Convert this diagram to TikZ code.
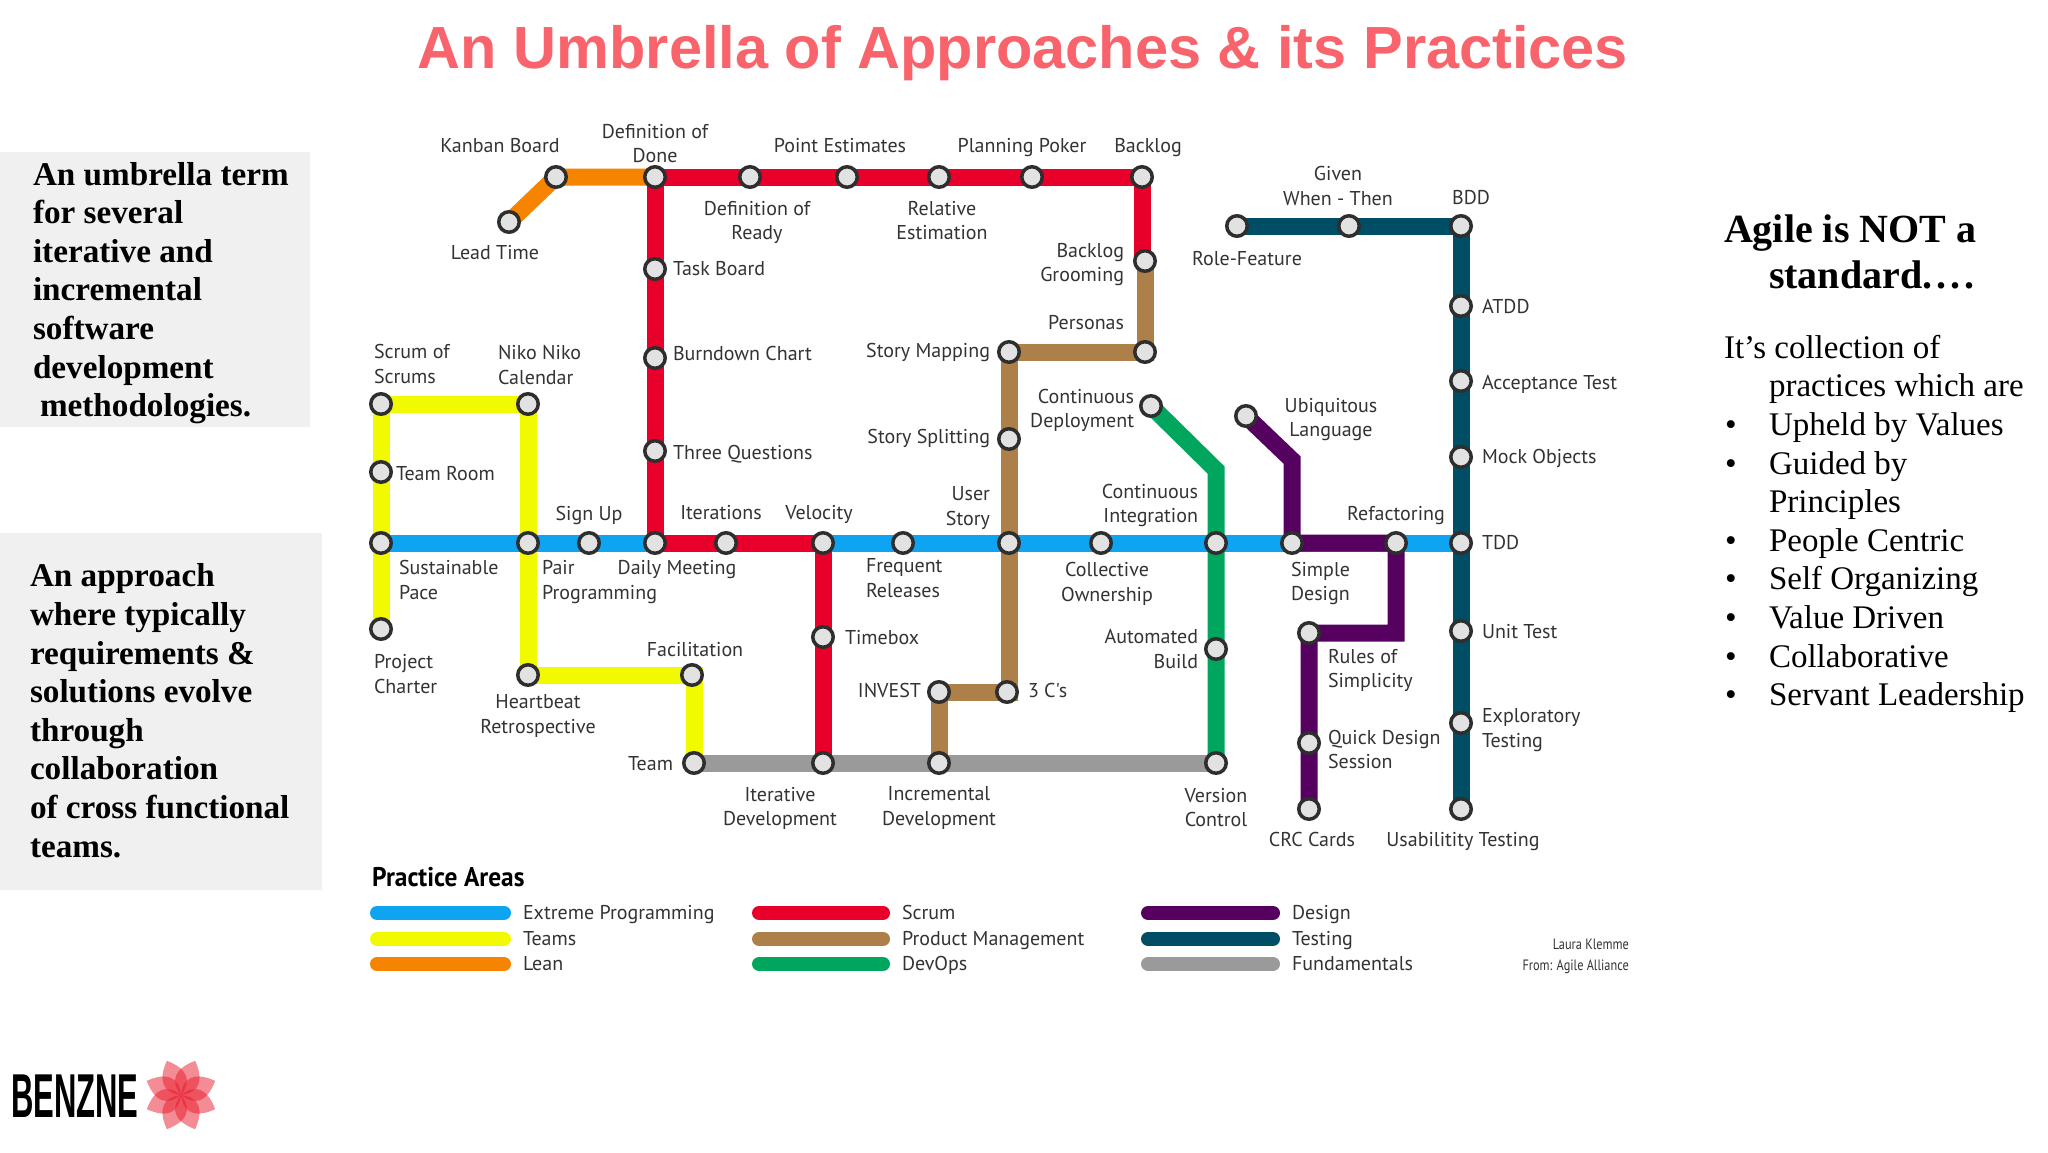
\documentclass[tikz,border=0pt]{standalone}
\usepackage{fontspec}
\setmainfont{Liberation Serif}
\newfontfamily\lblfont{PT Sans}
\newfontfamily\titlefont{Liberation Sans}
\usetikzlibrary{backgrounds}
\definecolor{cblue}{HTML}{0FA4F2}
\definecolor{cyellow}{HTML}{F2FA00}
\definecolor{corange}{HTML}{F78400}
\definecolor{cred}{HTML}{E8002A}
\definecolor{cbrown}{HTML}{AD7F49}
\definecolor{cgreen}{HTML}{00A55E}
\definecolor{cpurple}{HTML}{560060}
\definecolor{cteal}{HTML}{004E66}
\definecolor{cgray}{HTML}{9A9A9A}
\definecolor{ctitle}{HTML}{F9636B}
\definecolor{cbox}{HTML}{F0F0F0}
\definecolor{cring}{HTML}{2E2E2E}
\definecolor{cstop}{HTML}{E2E2E2}
\definecolor{ctext}{HTML}{333333}
\definecolor{cpetal}{HTML}{E81A2A}
\tikzset{
  stn/.style={circle,draw=cring,fill=cstop,line width=3.5pt,minimum size=20.5pt,inner sep=0pt,outer sep=0pt},
  lbl/.style={font=\lblfont\fontsize{20}{24.7}\selectfont,text=ctext,inner sep=0pt,outer sep=0pt,align=center,yshift=-1.5pt,
    execute at begin node=\strut,execute at end node=\strut},
  lbll/.style={lbl,align=left,anchor=west},
  lblr/.style={lbl,align=right,anchor=east},
  rail/.style={line width=17pt,line join=miter,line cap=butt},
  key/.style={line width=14pt,line cap=round},
  sidetxt/.style={inner sep=0pt,outer sep=0pt,align=left,anchor=base west,text=black},
  sideb/.style={sidetxt,font=\bfseries\fontsize{33.2}{38.6}\selectfont},
  petal/.style={fill=cpetal,fill opacity=0.5,draw=none}
}
\begin{document}
\begin{tikzpicture}[x=1pt,y=-1pt]
\useasboundingbox (0,0) rectangle (2048,1152);
% stations
\foreach \n/\x/\y in {
 lead/509/222,kanban/556/177,dod/655/177,dor/750/177,point/847/177,relative/939/177,poker/1032/177,backlog/1142/177,
 groom/1145/261,personas/1145/352,smap/1009/352,ssplit/1009/439,ustory/1009/543,
 cdeploy/1151/406,ci/1216/543,task/655/269,burn/655/358,three/655/451,daily/655/543,iter/726/543,velocity/823/543,
 frequent/903/543,collective/1101/543,sos/381/404,niko/528/404,troom/381/472,sustain/381/543,pair/528/543,signup/589/543,
 charter/381/629,heart/528/675,facil/692/675,team/694/763,iterative/823/763,timebox/823/637,incr/939/763,invest/939/692,
 cs/1007/692,version/1216/763,autob/1216/649,
 role/1237/226,given/1349/226,bdd/1461/226,atdd/1461/306,accept/1461/381,mock/1461/457,tdd/1461/543,
 ubi/1246/416,simple/1292/543,refact/1396/543,rules/1309/633,quick/1309/743,crc/1309/809,
 unit/1461/631,explor/1461/723,usab/1461/809}
 {\node[stn] (\n) at (\x,\y) {};}
\coordinate (gbend) at (1216,470);
\coordinate (pbend) at (1292,460);
\coordinate (rcorner) at (1396,633);
% rails, under the stations
\begin{pgfonlayer}{background}
\fill[white] (0,0) rectangle (2048,1152);
\fill[cbox] (0,152) rectangle (310,427);
\fill[cbox] (0,533) rectangle (322,890);
\draw[rail,cyellow] (charter.center) -- (sos.center) -- (niko.center) -- (heart.center) -- (team.center |- facil.center) -- (team.center);
\draw[rail,cgreen] (cdeploy.center) -- (gbend) -- (version.center);
\draw[rail,cbrown] (groom.center) -- (personas.center) -- (smap.center) -- (smap.center |- cs.center) -- (invest.center) -- (incr.center);
\draw[rail,cteal] (role.center) -- (bdd.center) -- (usab.center);
\draw[rail,cgray] (team.center) -- (version.center);
\draw[rail,cblue] (sustain.center) -- (tdd.center);
\draw[rail,corange] (lead.center) -- (kanban.center) -- (dod.center);
\draw[rail,cred] (daily.center) -- (dod.center) -- (backlog.center) -- (backlog.center |- groom.center);
\draw[rail,cred] (daily.center) -- (velocity.center) -- (iterative.center);
\draw[rail,cpurple] (ubi.center) -- (pbend) -- (simple.center) -- (refact.center) -- (rcorner) -- (rules.center) -- (crc.center);
\end{pgfonlayer}
% title
\node[inner sep=0pt,text=ctitle,anchor=base,font=\titlefont\bfseries\fontsize{59.5}{70}\selectfont] (title) at (1023,68) {An Umbrella of Approaches \& its Practices};
% labels
\node[lbl] (l1) at (500,146) {Kanban Board};
\node[lbl] (l2) at (655,145.5) {Definition of\\Done};
\node[lbl] (l3) at (840,146) {Point Estimates};
\node[lbl] (l4) at (1022,146) {Planning Poker};
\node[lbl] (l5) at (1148,146) {Backlog};
\node[lbl] (l6) at (757,222.5) {Definition of\\Ready};
\node[lbl] (l7) at (942,222.5) {Relative\\Estimation};
\node[lbl] (l8) at (495,253) {Lead Time};
\node[lbll] (l9) at (673,269) {Task Board};
\node[lbll] (l10) at (673,354) {Burndown Chart};
\node[lbll] (l11) at (673,453) {Three Questions};
\node[lblr] (l12) at (1124,264.5) {Backlog\\Grooming};
\node[lblr] (l13) at (1124,323.5) {Personas};
\node[lblr] (l14) at (990,351) {Story Mapping};
\node[lblr] (l15) at (990,437) {Story Splitting};
\node[lblr] (l16) at (1134,410.5) {Continuous\\Deployment};
\node[lblr] (l17) at (990,508) {User\\Story};
\node[lblr] (l18) at (1198,505.5) {Continuous\\Integration};
\node[lbll] (l19) at (374,366) {Scrum of\\Scrums};
\node[lbll] (l20) at (498,367) {Niko Niko\\Calendar};
\node[lbll] (l21) at (396,474) {Team Room};
\node[lbl] (l22) at (589,514) {Sign Up};
\node[lbl] (l23) at (721,513) {Iterations};
\node[lbl] (l24) at (819,513) {Velocity};
\node[lbll] (l25) at (399,582) {Sustainable\\Pace};
\node[lbll] (l26) at (542,582) {Pair\\Programming};
\node[lbl] (l27) at (677,568) {Daily Meeting};
\node[lbll] (l28) at (866,580) {Frequent\\Releases};
\node[lbl] (l29) at (1107,584) {Collective\\Ownership};
\node[lbll] (l30) at (374,676) {Project\\Charter};
\node[lbl] (l31) at (695,650.5) {Facilitation};
\node[lbl] (l32) at (538,716.5) {Heartbeat\\Retrospective};
\node[lbll] (l33) at (845,638) {Timebox};
\node[lblr] (l34) at (1198,651) {Automated\\Build};
\node[lblr] (l35) at (921,691) {INVEST};
\node[lbll] (l36) at (1028,691) {3 C's};
\node[lblr] (l37) at (673,764) {Team};
\node[lbl] (l38) at (780,808.5) {Iterative\\Development};
\node[lbl] (l39) at (939,808.5) {Incremental\\Development};
\node[lbl] (l40) at (1216,809.5) {Version\\Control};
\node[lbl] (l41) at (1338,188) {Given\\When - Then};
\node[lbl] (l42) at (1471,198.5) {BDD};
\node[lbl] (l43) at (1247,259) {Role-Feature};
\node[lbll] (l44) at (1482,307) {ATDD};
\node[lbll] (l45) at (1482,383) {Acceptance Test};
\node[lbll] (l46) at (1482,457) {Mock Objects};
\node[lbll] (l47) at (1482,543) {TDD};
\node[lbl] (l48) at (1331,419.5) {Ubiquitous\\Language};
\node[lbl] (l49) at (1396,514) {Refactoring};
\node[lbll] (l50) at (1291,583.5) {Simple\\Design};
\node[lbll] (l51) at (1328,670.5) {Rules of\\Simplicity};
\node[lbll] (l52) at (1328,751.5) {Quick Design\\Session};
\node[lbl] (l53) at (1312,840) {CRC Cards};
\node[lbl] (l54) at (1463,840) {Usabilitity Testing};
\node[lbll] (l55) at (1482,730.5) {Exploratory\\Testing};
\node[lbll] (l56) at (1482,632) {Unit Test};
% legend
\node[anchor=west,inner sep=0pt,text=black,font=\lblfont\bfseries\fontsize{27}{30}\selectfont] (pa) at (372,877) {\scalebox{0.94}[1]{Practice Areas}};
\foreach \n/\xa/\xb/\y/\c/\t in {
 a/377/504/913/cblue/Extreme Programming,b/377/504/939/cyellow/Teams,c/377/504/964/corange/Lean,
 d/759/883/913/cred/Scrum,e/759/883/939/cbrown/Product Management,f/759/883/964/cgreen/DevOps,
 g/1148/1273/913/cpurple/Design,h/1148/1273/939/cteal/Testing,i/1148/1273/964/cgray/Fundamentals}
{\coordinate (k\n a) at (\xa,\y); \coordinate (k\n b) at (\xb,\y);
 \draw[key,\c] (k\n a) -- (k\n b);
 \node[lbll] (tt\n) at ([xshift=19pt]k\n b) {\t};}
\node[inner sep=0pt,align=right,anchor=base east,text=ctext,font=\lblfont\fontsize{15}{21}\selectfont] (credit) at (1629,970) {\scalebox{0.82}[1]{Laura Klemme}\\\scalebox{0.82}[1]{From: Agile Alliance}};
% side texts
\node[sideb] (left1) at (33,416.6) {An umbrella term\\for several\\iterative and\\incremental\\software\\development\\\hspace*{7pt}methodologies.};
\node[sideb] (left2) at (30,857) {An approach\\where typically\\requirements \&\\solutions evolve\\through\\collaboration\\of cross functional\\teams.};
\node[sidetxt,font=\bfseries\fontsize{40}{46.6}\selectfont] (r1) at (1724,288.6) {Agile is NOT a\\\hspace*{45pt}standard.\kern4pt.\kern4pt.\kern4pt.};
\newcommand{\bul}{\makebox[45pt][l]{\hspace{1pt}•}}
\node[sidetxt,font=\fontsize{33}{38.6}\selectfont] (r2) at (1724,705.6) {It’s collection of\\\hspace*{45pt}practices which are\\\bul Upheld by Values\\\bul Guided by\\\hspace*{45pt}Principles\\\bul People Centric\\\bul Self Organizing\\\bul Value Driven\\\bul Collaborative\\\bul Servant Leadership};
% logo
\node[anchor=base west,inner sep=0pt,text=black,font=\titlefont\bfseries\fontsize{62}{70}\selectfont] (logo) at (11,1117) {\scalebox{0.5}[1]{BENZNE}};
\coordinate (fl) at (181,1095);
\foreach \a in {22.5,67.5,...,337.5}{
  \begin{scope}[shift={(fl)},rotate=\a]
  \fill[petal] (0,0) .. controls (9,-16) and (22,-16) .. (37,0) .. controls (22,16) and (9,16) .. (0,0);
  \end{scope}
}
\end{tikzpicture}
\end{document}
